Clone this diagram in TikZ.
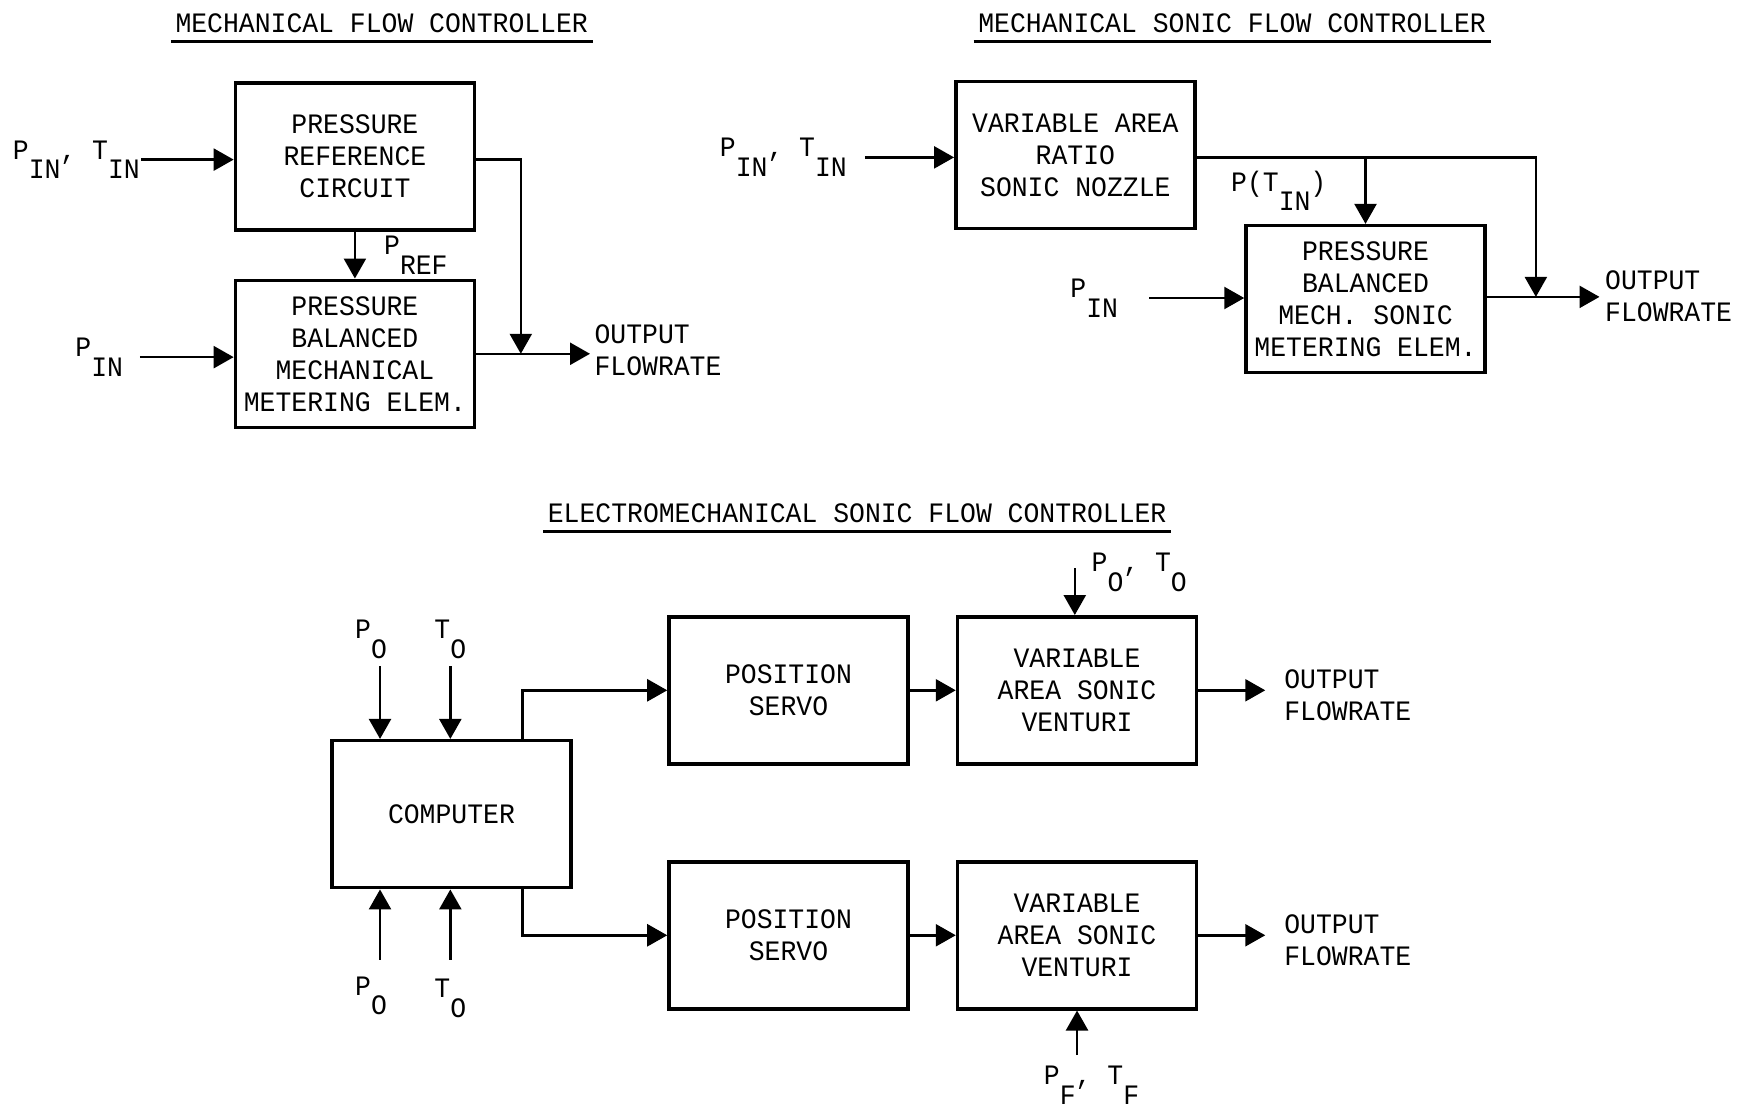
\documentclass[tikz,border=0pt]{standalone}
\usepackage{fontspec}
\setmonofont[FakeStretch=0.94]{Liberation Mono}
\usepackage{tikz}
\usetikzlibrary{arrows.meta,positioning,calc}
\newcommand{\low}[1]{\raisebox{-5.6pt}{#1}}

\begin{document}
\begin{tikzpicture}[
    x=0.11161mm, y=-0.11161mm,
    >={Triangle[length=2mm,width=2.2mm]},
    line width=0.7pt,
    font=\ttfamily\fontsize{8}{9.1}\selectfont,
    block/.style={draw, rectangle, line width=1pt, minimum width=23.9mm, minimum height=14.7mm, align=center, inner sep=1pt},
    heading/.style={inner xsep=1pt, inner ysep=2.2pt},
    lbl/.style={inner sep=0pt, align=left}
]

    \useasboundingbox (0,0) rectangle (1568,995);

    \node[heading, anchor=south] (headA) at (342,37) {MECHANICAL FLOW CONTROLLER};
    \draw[line width=1pt] (headA.south west) -- (headA.south east);

    \node[block] (prc) at (318,140) {PRESSURE\\REFERENCE\\CIRCUIT};
    \node[block, below=4.7mm of prc] (pbm) {PRESSURE\\BALANCED\\MECHANICAL\\METERING ELEM.};

    \coordinate (inA) at ($(prc.west)+(-83,3)$);
    \coordinate (inB) at ($(pbm.west)+(-84,3)$);
    \coordinate (jA)  at ($(pbm.east)+(40,0)$);

    \node[lbl, anchor=east] (lblA) at (inA) {P\low{IN}, T\low{IN}};
    \node[lbl, anchor=east] (lblB) at ($(inB)+(-14,0)$) {P\low{IN}};

    \draw[->] (inA) -- (inA -| prc.west);
    \draw[->] (inB) -- (inB -| pbm.west);
    \draw[->] (prc) -- (pbm) node[lbl, midway, right=2.8mm] (pref) {P\low{REF}};
    \draw[->] (prc.east |- inA) -| (jA);
    \draw[->] (pbm.east) -- ++(102,0) coordinate (oA);
    \node[lbl, anchor=west] (outA) at ($(oA)+(3,-3)$) {OUTPUT\\FLOWRATE};


    \node[heading, anchor=south] (headB) at (1104,37) {MECHANICAL SONIC FLOW CONTROLLER};
    \draw[line width=1pt] (headB.south west) -- (headB.south east);

    \node[block] (noz) at (963.5,139) {VARIABLE AREA\\RATIO\\SONIC NOZZLE};
    \node[block] (son) at (1223.5,268) {PRESSURE\\BALANCED\\MECH. SONIC\\METERING ELEM.};

    \coordinate (inC) at ($(noz.west)+(-80,2)$);
    \coordinate (inD) at ($(son.west)+(-85,-1)$);
    \coordinate (jB)  at ($(son.east)+(44,-2)$);

    \node[lbl, anchor=east] (lblC) at ($(inC)+(-15,0)$) {P\low{IN}, T\low{IN}};
    \node[lbl, anchor=east] (lblD) at ($(inD)+(-27,0)$) {P\low{IN}};

    \draw[->] (inC) -- (inC -| noz.west);
    \draw[->] (inD) -- (inD -| son.west);
    \draw[->] (noz.east |- inC) -| (jB);
    \draw[->] (inC -| son.north) -- (son.north);
    \node[lbl, anchor=north east] (ptin) at ($(inC -| son.north)+(-34,11)$) {P(T\low{IN})};
    \draw[->] (son.east |- jB) -- ++(101,0) coordinate (oB);
    \node[lbl, anchor=west] (outB) at ($(oB)+(4,-1)$) {OUTPUT\\FLOWRATE};


    \node[heading, anchor=south] (headC) at (768,476) {ELECTROMECHANICAL SONIC FLOW CONTROLLER};
    \draw[line width=1pt] (headC.south west) -- (headC.south east);

    \node[block] (comp) at (404.5,729.5) {COMPUTER};
    \node[block] (servoA) at (706.5,618.5) {POSITION\\SERVO};
    \node[block, right=4.6mm of servoA] (ventA) {VARIABLE\\AREA SONIC\\VENTURI};
    \node[block] (servoB) at (706.5,838) {POSITION\\SERVO};
    \node[block, right=4.6mm of servoB] (ventB) {VARIABLE\\AREA SONIC\\VENTURI};

    \coordinate (inE) at ($(ventA.north)+(-2,-42)$);
    \coordinate (inF) at ($(ventB.south)+(0,40)$);
    \coordinate (inG) at ($(comp.north)+(-64,-65)$);
    \coordinate (inH) at ($(comp.north)+(-1,-65)$);
    \coordinate (inI) at ($(comp.south)+(-64,63)$);
    \coordinate (inJ) at ($(comp.south)+(-1,63)$);

    \node[lbl, anchor=west] (lblE) at ($(inE)+(14,4)$) {P\low{O}, T\low{O}};
    \node[lbl, anchor=north] (lblF) at ($(inF)+(13,9)$) {P\low{F}, T\low{F}};
    \node[lbl, anchor=south] (lblG) at ($(inG)+(-8,-6)$) {P\low{O}};
    \node[lbl, anchor=south] (lblH) at ($(inH)+(0,-6)$) {T\low{O}};
    \node[lbl, anchor=north] (lblI) at ($(inI)+(-8,14)$) {P\low{O}};
    \node[lbl, anchor=north] (lblJ) at ($(inJ)+(0,16)$) {T\low{O}};

    \draw[->] (inE) -- (inE |- ventA.north);
    \draw[->] (inF) -- (inF |- ventB.south);
    \draw[->] (inG) -- (inG |- comp.north);
    \draw[->] (inH) -- (inH |- comp.north);
    \draw[->] (inI) -- (inI |- comp.south);
    \draw[->] (inJ) -- (inJ |- comp.south);

    \draw[->] ($(comp.north east)+(-45,0)$) |- (servoA.west);
    \draw[->] ($(comp.south east)+(-45,0)$) |- (servoB.west);
    \draw[->] (servoA) -- (ventA);
    \draw[->] (servoB) -- (ventB);
    \draw[->] (ventA.east) -- ++(60,0) coordinate (oC);
    \draw[->] (ventB.east) -- ++(60,0) coordinate (oD);
    \node[lbl, anchor=west] (outC) at ($(oC)+(16,4)$) {OUTPUT\\FLOWRATE};
    \node[lbl, anchor=west] (outD) at ($(oD)+(16,4)$) {OUTPUT\\FLOWRATE};

\end{tikzpicture}
\end{document}
